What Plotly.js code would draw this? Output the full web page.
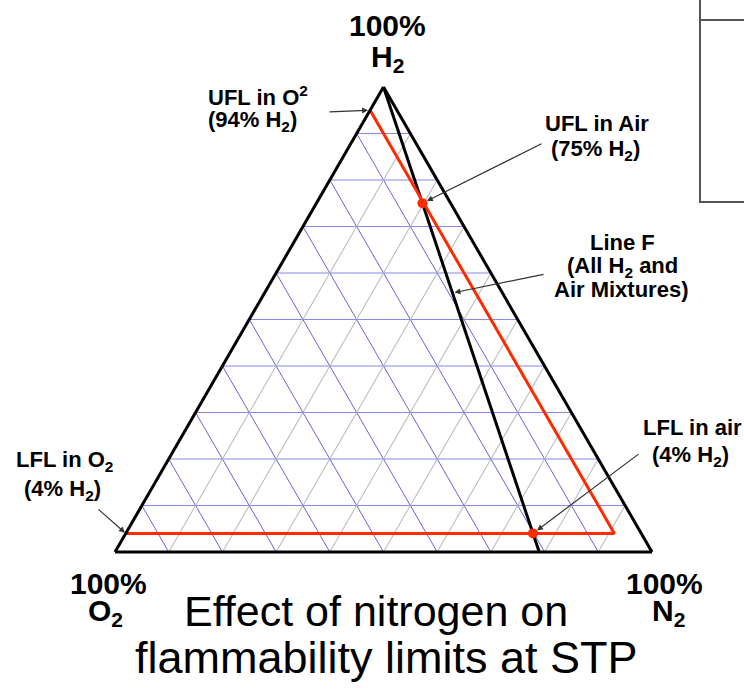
<!DOCTYPE html>
<html><head><meta charset="utf-8">
<script src="https://cdn.plot.ly/plotly-3.0.1.min.js"></script>
<style>html,body{margin:0;padding:0;background:#fff;} #chart{width:744px;height:699px;}</style>
</head><body><div id="chart"></div>
<script>
// ---- Data (mole percent: H2, O2, N2) ----
const boundaryH2 = [4, 4, 95];      // flammability envelope (red)
const boundaryO2 = [96, 5, 5];
const boundaryN2 = [0, 91, 0];
const lineFH2 = [100, 0];           // Line F: all H2 + air mixtures
const lineFO2 = [0, 21];
const lineFN2 = [0, 79];
const airPointNames = ['UFL in Air', 'LFL in air'];
const airPointH2 = [75, 4];
const airPointO2 = [5.25, 20.16];
const airPointN2 = [19.75, 75.84];
const lineFCalloutH2 = 55.7;        // point on Line F used by its callout
const lineFCalloutO2 = 9.3;
const lineFCalloutN2 = 35.0;

const W = 744, H = 699;
const FONT = 'Liberation Sans, Arial, sans-serif';

const ternDomain = {x: [115 / W, 652 / W], y: [147 / H, 612 / H]};

function ternToPaper(a, b, c) {
  const s = a + b + c;
  const dx = ternDomain.x, dy = ternDomain.y;
  return [dx[0] + (dx[1] - dx[0]) * (c / s + a / (2 * s)), dy[0] + (dy[1] - dy[0]) * (a / s)];
}
function label(text, cx, base, size, bold) {
  return {text: bold ? '<b>' + text + '</b>' : text, x: cx / W, y: 1 - (base - size * 0.33) / H,
    xref: 'paper', yref: 'paper', xanchor: 'center', yanchor: 'middle', showarrow: false,
    font: {family: FONT, size: size, color: '#000'}};
}
function arrow(a, b, c, tailX, tailY, standoff) {
  const p = ternToPaper(a, b, c);
  const hx = p[0] * W, hy = (1 - p[1]) * H;
  return {x: p[0], y: p[1], xref: 'paper', yref: 'paper', text: '', showarrow: true,
    ax: tailX - hx, ay: tailY - hy, axref: 'pixel', ayref: 'pixel',
    arrowhead: 2, arrowsize: 1, arrowwidth: 1.2, arrowcolor: '#333', standoff: standoff || 0};
}

const axisCommon = {showticklabels: false, ticks: '', linecolor: '#000', linewidth: 3,
  showgrid: true, gridwidth: 1, dtick: 10, tick0: 0, title: {text: ''}};

const traces = [
  {type: 'scatterternary', mode: 'lines', a: lineFH2, b: lineFO2, c: lineFN2,
    line: {color: '#000', width: 3}, hoverinfo: 'skip', cliponaxis: false},
  {type: 'scatterternary', mode: 'lines', a: boundaryH2, b: boundaryO2, c: boundaryN2,
    line: {color: '#ff2a00', width: 3}, hoverinfo: 'skip', cliponaxis: false},
  {type: 'scatterternary', mode: 'markers', a: airPointH2, b: airPointO2, c: airPointN2,
    text: airPointNames, marker: {color: '#ff2a00', size: 10}, hoverinfo: 'skip', cliponaxis: false}
];

const annotations = [
  label('100%', 387, 35, 30, true),
  label('H<sub>2</sub>', 387, 68, 30, true),
  label('100%', 108, 593, 30, true),
  label('O<sub>2</sub>', 105, 622, 30, true),
  label('100%', 664, 593, 30, true),
  label('N<sub>2</sub>', 668, 622, 30, true),
  label('UFL in O<sup>2</sup>', 258, 103, 22, true),
  label('(94% H<sub>2</sub>)', 253, 128, 22, true),
  label('UFL in Air', 597, 131, 22, true),
  label('(75% H<sub>2</sub>)', 595, 157, 22, true),
  label('Line F', 622, 250, 22, true),
  label('(All H<sub>2</sub> and', 622, 274, 22, true),
  label('Air Mixtures)', 621, 297, 22, true),
  label('LFL in air', 692, 435, 22, true),
  label('(4% H<sub>2</sub>)', 690, 463, 22, true),
  label('LFL in O<sub>2</sub>', 64, 468, 22, true),
  label('(4% H<sub>2</sub>)', 63, 497, 22, true),
  label('Effect of nitrogen on', 376, 625, 43, false),
  label('flammability limits at STP', 386, 672, 45, false),
  arrow(boundaryH2[2], boundaryO2[2], boundaryN2[2], 328, 112, 2),
  arrow(airPointH2[0], airPointO2[0], airPointN2[0], 543, 143, 5),
  arrow(lineFCalloutH2, lineFCalloutO2, lineFCalloutN2, 545, 274, 2),
  arrow(airPointH2[1], airPointO2[1], airPointN2[1], 640, 453, 5),
  arrow(boundaryH2[0], boundaryO2[0], boundaryN2[0], 97, 508, 1)
];

const boxLine = {type: 'line', xref: 'paper', yref: 'paper', line: {color: '#555', width: 2}};
const shapes = [
  Object.assign({}, boxLine, {x0: 700 / W, x1: 700 / W, y0: 1, y1: 1 - 203 / H}),
  Object.assign({}, boxLine, {x0: 700 / W, x1: 1, y0: 1 - 20 / H, y1: 1 - 20 / H}),
  Object.assign({}, boxLine, {x0: 700 / W, x1: 1, y0: 1 - 202 / H, y1: 1 - 202 / H})
];

const layout = {
  width: W, height: H, margin: {l: 0, r: 0, t: 0, b: 0},
  paper_bgcolor: '#fff', showlegend: false, hovermode: false,
  ternary: {
    sum: 100, domain: ternDomain, bgcolor: '#fff',
    aaxis: Object.assign({}, axisCommon, {gridcolor: '#8888e6'}),
    baxis: Object.assign({}, axisCommon, {gridcolor: '#6464d8'}),
    caxis: Object.assign({}, axisCommon, {gridcolor: '#b8b8b8'})
  },
  annotations: annotations, shapes: shapes
};

Plotly.newPlot('chart', traces, layout, {displayModeBar: false, staticPlot: true});
</script></body></html>
